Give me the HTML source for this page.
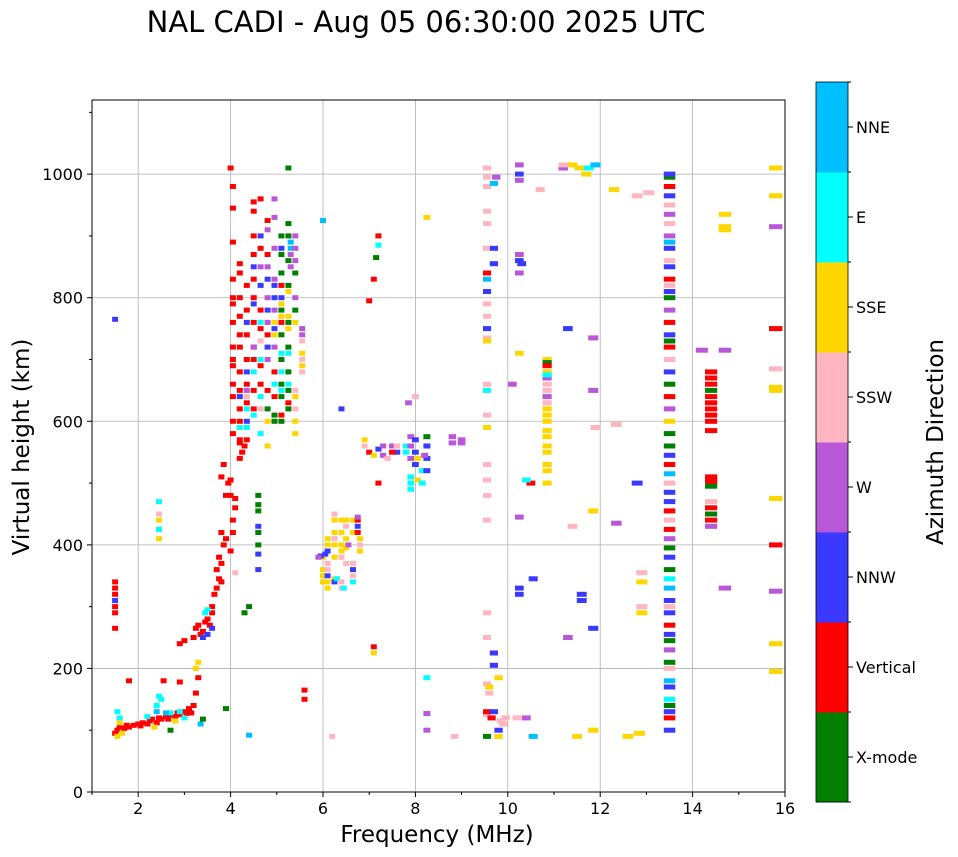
<!DOCTYPE html>
<html><head><meta charset="utf-8"><title>NAL CADI ionogram</title>
<style>
html,body{margin:0;padding:0;background:#fff;}
svg{display:block;font-family:"DejaVu Sans","Liberation Sans",sans-serif;}
</style></head>
<body>
<svg id="chart" width="958" height="857" viewBox="0 0 958 857" xmlns="http://www.w3.org/2000/svg">
<text x="426" y="32" font-size="29" text-anchor="middle" fill="#000">NAL CADI - Aug 05 06:30:00 2025 UTC</text>
<g id="grid"></g>
<g id="marks"></g>
<rect x="92" y="100" width="693" height="692" fill="none" stroke="#000" stroke-width="1"/>
<g id="axes"></g>
<text x="437" y="842" font-size="23" text-anchor="middle">Frequency (MHz)</text>
<text transform="translate(29,447) rotate(-90)" font-size="23" text-anchor="middle">Virtual height (km)</text>
<g id="cbar"></g>
<text transform="translate(943,442) rotate(-90)" font-size="23" text-anchor="middle">Azimuth Direction</text>
</svg>
<script>
const xTicks = [2,4,6,8,10,12,14,16];
const yTicks = [0,200,400,600,800,1000];
const dirNames = ["X-mode","Vertical","NNW","W","SSW","SSE","E","NNE"];
const dirColors = ["#008000","#ff0000","#3a3aff","#b857d8","#ffb6c1","#ffd700","#00ffff","#00bfff"];
// echoes: [frequency MHz, virtual height km, direction index]
const echoes = [
[1.5,95,1],[1.55,100,1],[1.6,105,1],[1.7,103,1],[1.75,108,1],[1.8,105,1],[1.9,108,1],[2.0,110,1],[2.05,107,1],[2.1,112,1],[2.2,110,1],[2.25,115,1],[2.3,118,1],[2.4,112,1],[2.45,120,1],[2.5,118,1],[2.6,122,1],[2.65,118,1],[2.7,125,1],[2.8,122,1],[2.85,128,1],[2.9,125,1],[3.0,130,1],[3.05,127,1],[3.1,135,1],[3.15,128,1],[3.2,140,1],[3.25,160,1],[3.3,185,1],[2.9,178,1],[2.55,180,1],[1.8,180,1],
[1.55,130,6],[2.4,140,6],[2.45,155,6],[2.5,150,6],[2.7,128,6],[2.9,130,6],[3.0,120,6],[2.2,122,6],[1.6,120,6],
[1.55,90,5],[1.6,112,5],[1.65,95,5],[2.35,105,5],[3.3,210,5],[3.25,200,5],[2.8,115,5],
[2.4,130,7],[2.6,128,7],[3.35,110,7],[4.4,92,7],[3.4,118,0],[3.9,135,0],[2.7,100,0],
[2.45,470,6],[2.45,450,4],[2.45,440,5],[2.45,425,6],[2.45,410,5],
[1.5,265,1],[1.5,290,1],[1.5,300,1],[1.5,320,1],[1.5,330,1],[1.5,340,1],[1.5,310,2],[1.5,765,2],
[2.9,240,1],[3.0,245,1],[3.2,250,1],[3.25,265,1],[3.3,270,1],[3.35,255,1],[3.4,260,1],[3.45,275,1],[3.5,280,1],[3.55,270,1],[3.6,290,1],[3.6,300,1],[3.65,320,1],[3.7,330,1],[3.75,345,1],[3.8,340,1],[3.7,360,1],[3.8,370,1],[3.75,380,1],[3.85,400,1],[3.8,420,1],[3.9,410,1],[4.0,390,1],[4.05,420,1],[4.05,440,1],[4.1,460,1],[4.0,480,1],[3.9,480,1],[3.95,500,1],[3.8,510,1],[3.85,530,1],[4.0,505,1],[4.1,475,1],[4.2,540,1],[4.25,550,1],[4.2,565,1],[4.3,560,1],
[3.4,250,2],[3.5,255,2],[3.6,265,2],[3.5,295,6],[3.45,290,6],[4.1,355,4],[4.4,300,0],[4.3,290,0],
[4.6,400,0],[4.6,420,0],[4.6,455,0],[4.6,465,0],[4.6,480,0],[4.6,360,2],[4.6,385,2],[4.6,430,2],
[4.05,580,1],[4.05,600,1],[4.05,640,1],[4.05,660,1],[4.05,690,1],[4.05,700,1],[4.05,720,1],[4.05,760,1],[4.05,790,1],[4.05,800,1],[4.05,830,1],[4.05,890,1],[4.05,945,1],[4.05,980,1],[4.0,1010,1],
[4.2,600,1],[4.2,620,1],[4.2,650,1],[4.2,680,1],[4.2,720,1],[4.2,740,1],[4.2,770,1],[4.2,800,1],[4.2,840,1],[4.2,855,1],[4.2,640,2],[4.2,590,6],[4.2,570,1],
[4.35,570,1],[4.35,630,1],[4.35,660,1],[4.35,700,1],[4.35,740,1],[4.35,780,1],[4.35,820,1],[4.35,600,2],[4.35,680,2],[4.35,760,2],[4.35,590,6],[4.35,620,6],[4.35,650,3],[4.35,640,4],
[4.5,620,1],[4.5,650,1],[4.5,700,1],[4.5,720,1],[4.5,760,1],[4.5,800,1],[4.5,830,1],[4.5,870,1],[4.5,900,1],[4.5,940,1],[4.5,955,1],[4.5,680,6],[4.5,610,6],[4.5,790,2],[4.5,850,2],[4.5,720,3],
[4.65,580,6],[4.65,640,6],[4.65,700,6],[4.65,760,6],[4.65,620,4],[4.65,730,4],[4.65,660,1],[4.65,690,1],[4.65,750,1],[4.65,780,1],[4.65,880,1],[4.65,960,1],[4.65,820,2],[4.65,900,2],[4.65,850,3],
[4.8,700,3],[4.8,760,3],[4.8,800,3],[4.8,850,3],[4.8,910,3],[4.8,720,2],[4.8,780,2],[4.8,830,2],[4.8,650,1],[4.8,740,1],[4.8,870,1],[4.8,925,1],[4.8,560,5],[4.8,600,5],[4.8,620,0],
[4.95,720,3],[4.95,780,3],[4.95,830,3],[4.95,880,3],[4.95,930,3],[4.95,960,3],[4.95,750,2],[4.95,800,2],[4.95,820,2],[4.95,740,5],[4.95,760,5],[4.95,680,1],[4.95,640,1],[4.95,660,6],[4.95,600,0],[4.95,610,0],
[5.1,600,0],[5.1,640,0],[5.1,660,0],[5.1,700,0],[5.1,740,0],[5.1,780,0],[5.1,840,0],[5.1,870,0],[5.1,900,0],[5.1,770,5],[5.1,790,5],[5.1,650,6],[5.1,680,6],[5.1,710,6],[5.1,610,1],[5.1,760,1],[5.1,820,1],[5.1,800,2],[5.1,880,2],
[5.25,620,0],[5.25,650,0],[5.25,680,0],[5.25,720,0],[5.25,760,0],[5.25,820,0],[5.25,860,0],[5.25,900,0],[5.25,920,0],[5.25,1010,0],[5.3,890,7],[5.3,880,7],[5.25,710,6],[5.25,660,6],[5.25,770,5],[5.25,750,5],[5.25,810,5],[5.25,630,1],[5.3,850,3],[5.3,870,3],
[5.4,860,3],[5.4,880,3],[5.4,900,3],[5.4,800,3],[5.4,600,5],[5.4,580,5],[5.4,640,5],[5.4,760,5],[5.4,650,4],[5.4,620,4],[5.4,840,0],[5.4,780,0],
[5.55,680,4],[5.55,700,4],[5.55,730,4],[5.55,710,5],[5.55,690,5],[5.55,740,3],[5.55,750,3],[6.0,925,7],[6.4,620,2],
[6.0,340,5],[6.0,350,5],[6.0,360,5],[6.0,380,5],[5.95,382,2],[6.05,385,2],[5.9,380,3],
[6.1,400,5],[6.1,410,5],[6.1,330,5],[6.1,340,5],[6.1,360,4],[6.1,370,4],[6.1,390,2],[6.1,350,2],
[6.25,380,5],[6.25,400,5],[6.25,420,5],[6.25,440,5],[6.25,345,5],[6.25,450,4],[6.25,410,4],[6.25,340,2],[6.3,345,6],
[6.4,390,5],[6.4,400,5],[6.4,420,5],[6.4,440,5],[6.4,380,4],[6.4,340,4],[6.4,330,4],[6.45,330,6],
[6.5,440,5],[6.5,395,5],[6.5,410,5],[6.5,370,4],[6.5,430,4],[6.55,400,3],
[6.65,440,5],[6.65,420,5],[6.65,370,4],[6.65,350,4],[6.65,340,6],[6.65,360,2],
[6.75,420,1],[6.75,440,1],[6.75,430,2],[6.75,445,3],[6.8,410,5],[6.8,390,5],[6.8,400,4],
[5.6,150,1],[5.6,165,1],[6.2,90,4],[7.1,235,1],[7.1,225,5],
[6.9,570,5],[6.9,560,4],[7.0,550,1],[7.1,545,5],[7.2,555,2],[7.3,545,3],[7.3,560,3],[7.4,540,4],[7.5,560,3],[7.6,550,2],[7.8,550,6],[7.8,560,6],[7.9,540,3],[7.9,560,3],[7.9,575,3],[7.9,510,6],[7.9,500,6],[7.9,490,6],[8.0,530,2],[8.0,550,2],[8.0,570,2],[8.05,505,5],[8.05,540,5],[8.15,500,6],[8.15,520,6],[8.25,520,2],[8.25,540,2],[8.25,560,2],[8.25,575,0],[8.2,545,3],[7.6,560,4],[7.5,550,1],
[8.8,565,3],[8.8,575,3],[9.0,570,3],[9.0,565,3],[7.85,630,3],[8.0,640,4],[8.25,930,5],[8.25,185,6],[8.25,127,3],[8.25,100,3],[8.85,90,4],
[7.2,900,1],[7.1,830,1],[7.2,885,6],[7.15,865,0],[7.2,500,1],[7.0,795,1],
[9.55,1010,4],[9.55,995,4],[9.55,980,4],[9.55,940,4],[9.55,920,4],[9.55,880,4],[9.55,790,4],[9.55,770,4],[9.55,735,4],[9.55,660,4],[9.55,610,4],[9.55,530,4],[9.55,505,4],[9.55,480,4],[9.55,440,4],[9.55,290,4],[9.55,250,4],[9.55,175,4],[9.6,160,4],[9.55,125,4],
[9.55,730,5],[9.55,590,5],[9.6,170,5],[9.55,830,7],[9.7,985,7],[9.55,840,1],[9.55,130,1],[9.65,120,1],[9.55,810,2],[9.7,880,2],[9.7,855,2],[9.55,750,2],[9.7,130,2],[9.75,995,3],[9.55,650,6],[9.55,90,0],
[9.8,90,5],[9.8,185,5],[9.85,115,4],[9.9,110,4],[9.95,120,4],[9.7,225,2],[9.7,205,2],[9.8,100,2],
[10.25,1015,3],[10.25,990,3],[10.25,870,3],[10.25,840,3],[10.1,660,3],[10.25,445,3],[10.4,120,3],[10.25,1000,2],[10.25,860,2],[10.3,855,2],[10.25,330,2],[10.25,320,2],[10.25,710,5],[10.2,120,4],[10.5,500,1],[10.4,505,6],[10.55,90,7],[10.7,975,4],[10.55,345,2],
[10.85,500,5],[10.85,520,5],[10.85,530,5],[10.85,550,5],[10.85,560,5],[10.85,575,5],[10.85,585,5],[10.85,600,5],[10.85,610,5],[10.85,620,5],[10.85,680,5],[10.85,700,5],[10.85,630,4],[10.85,650,4],[10.85,660,4],[10.85,640,3],[10.85,670,3],[10.85,695,0],[10.85,675,6],[10.85,690,1],
[11.3,750,2],[11.6,320,2],[11.6,310,2],[11.85,265,2],[11.3,250,3],[11.4,1015,5],[11.55,1010,5],[11.7,1000,5],[11.2,1010,3],[11.85,735,3],[11.85,650,3],[11.2,1015,4],[11.9,590,4],[11.4,430,4],[11.75,1010,6],[11.9,1015,7],[11.85,455,5],[11.85,100,5],[11.5,90,5],
[12.3,975,5],[12.35,595,5],[12.6,90,5],[12.35,595,4],[12.8,965,4],[12.35,435,3],[12.8,500,2],[12.85,95,5],[12.9,300,4],[12.9,340,5],[12.9,290,5],[12.9,355,4],
[13.5,100,2],[13.5,120,1],[13.5,130,2],[13.5,140,0],[13.5,150,6],[13.5,170,2],[13.5,180,7],[13.5,200,4],[13.5,210,0],[13.5,230,3],[13.5,245,0],[13.5,255,2],[13.5,270,1],[13.5,290,2],[13.5,300,4],[13.5,310,2],[13.5,330,7],[13.5,345,6],[13.5,360,0],[13.5,380,2],[13.5,395,0],[13.5,410,3],[13.5,425,1],[13.5,440,4],[13.5,455,1],[13.5,470,2],[13.5,485,2],[13.5,500,4],[13.5,515,7],[13.5,530,1],[13.5,545,2],[13.5,560,0],[13.5,580,0],[13.5,600,5],[13.5,620,3],[13.5,640,1],[13.5,660,0],[13.5,680,2],[13.5,700,4],[13.5,720,1],[13.5,730,0],[13.5,740,2],[13.5,760,1],[13.5,780,3],[13.5,800,0],[13.5,810,2],[13.5,820,4],[13.5,830,1],[13.5,850,2],[13.5,860,4],[13.5,880,2],[13.5,890,7],[13.5,900,3],[13.5,920,4],[13.5,935,3],[13.5,950,4],[13.5,965,2],[13.5,980,1],[13.5,995,0],[13.5,1000,2],
[14.4,500,1],[14.4,505,1],[14.4,510,1],[14.4,495,0],[14.4,440,1],[14.4,450,0],[14.4,460,1],[14.4,585,1],[14.4,600,1],[14.4,610,1],[14.4,620,1],[14.4,630,1],[14.4,640,1],[14.4,660,1],[14.4,670,1],[14.4,680,1],[14.4,650,0],[14.4,430,3],[14.4,470,4],[14.2,715,3],[14.7,715,3],[14.7,330,3],[14.7,935,5],[14.7,915,5],[14.7,910,5],[13.05,970,4],
[15.8,1010,5],[15.8,965,5],[15.8,655,5],[15.8,650,5],[15.8,475,5],[15.8,240,5],[15.8,195,5],[15.8,750,1],[15.8,400,1],[15.8,915,3],[15.8,325,3],[15.8,685,4]
];
const NS = "http://www.w3.org/2000/svg";
const X0 = 92, X1 = 785, Y0 = 792, Y1 = 100, FMIN = 1, FMAX = 16, HMAX = 1120;
function xs(f){ return X0 + (f - FMIN) / (FMAX - FMIN) * (X1 - X0); }
function ys(h){ return Y0 - h / HMAX * (Y0 - Y1); }
function mk(tag, attrs, parent){ const e = document.createElementNS(NS, tag); for (const k in attrs) e.setAttribute(k, attrs[k]); parent.appendChild(e); return e; }
const grid = document.getElementById('grid'), axes = document.getElementById('axes'), marks = document.getElementById('marks'), cbar = document.getElementById('cbar');
xTicks.forEach(t => {
  const x = xs(t);
  if (t < FMAX) {
    const g = mk('line', {x1:x, x2:x, y1:Y1, y2:Y0, stroke:'#b0b0b0', 'stroke-width':0.8}, grid);
    
    
  }
  const tk = mk('line', {x1:x, x2:x, y1:Y0, y2:Y0+5, stroke:'#000'}, axes);
  
  
  const lb = mk('text', {x:x, y:Y0+22, 'font-size':16, 'text-anchor':'middle'}, axes);
  lb.textContent = t;
  
  
});
for (let f = 1; f <= 15; f += 2) {
  const m = mk('line', {x1:xs(f), x2:xs(f), y1:Y0, y2:Y0+3, stroke:'#000'}, axes);
  
  
}
yTicks.forEach(t => {
  const y = ys(t);
  if (t > 0) {
    const g = mk('line', {x1:X0, x2:X1, y1:y, y2:y, stroke:'#b0b0b0', 'stroke-width':0.8}, grid);
    
    
  }
  const tk = mk('line', {x1:X0-5, x2:X0, y1:y, y2:y, stroke:'#000'}, axes);
  
  
  const lb = mk('text', {x:X0-9, y:y+6, 'font-size':16, 'text-anchor':'end'}, axes);
  lb.textContent = t;
  
  
});
for (let h = 100; h <= 1100; h += 200) {
  const m = mk('line', {x1:X0-3, x2:X0, y1:ys(h), y2:ys(h), stroke:'#000'}, axes);
  
  
}
echoes.forEach(e => {
  const f = e[0], h = e[1], d = e[2];
  const w = Math.max(6, f * 0.85), hh = 5;
  const r = mk('rect', {x:(xs(f) - w/2).toFixed(1), y:(ys(h) - hh/2).toFixed(1), width:w.toFixed(1), height:hh, fill:dirColors[d]}, marks);
  
  
});
const CB_X = 816, CB_W = 32, CB_TOP = 82, CB_BOT = 802;
const seg = (CB_BOT - CB_TOP) / dirNames.length;
dirNames.forEach((n, i) => {
  const yTop = CB_BOT - (i + 1) * seg;
  const r = mk('rect', {x:CB_X, y:yTop, width:CB_W, height:seg + 0.5, fill:dirColors[i]}, cbar);
  
  
  const yc = yTop + seg / 2;
  const tk = mk('line', {x1:CB_X+CB_W, x2:CB_X+CB_W+5, y1:yc, y2:yc, stroke:'#000'}, cbar);
  
  
  const lb = mk('text', {x:CB_X+CB_W+8, y:yc+6, 'font-size':16}, cbar);
  lb.textContent = n;
  
  
});
for (let i = 0; i <= dirNames.length; i++) {
  const y = CB_BOT - i * seg;
  const m = mk('line', {x1:CB_X+CB_W, x2:CB_X+CB_W+3, y1:y, y2:y, stroke:'#000'}, cbar);
  
  
}
const fr = mk('rect', {x:CB_X, y:CB_TOP, width:CB_W, height:CB_BOT-CB_TOP, fill:'none', stroke:'#000', 'stroke-width':0.8}, cbar);


</script>
</body></html>
